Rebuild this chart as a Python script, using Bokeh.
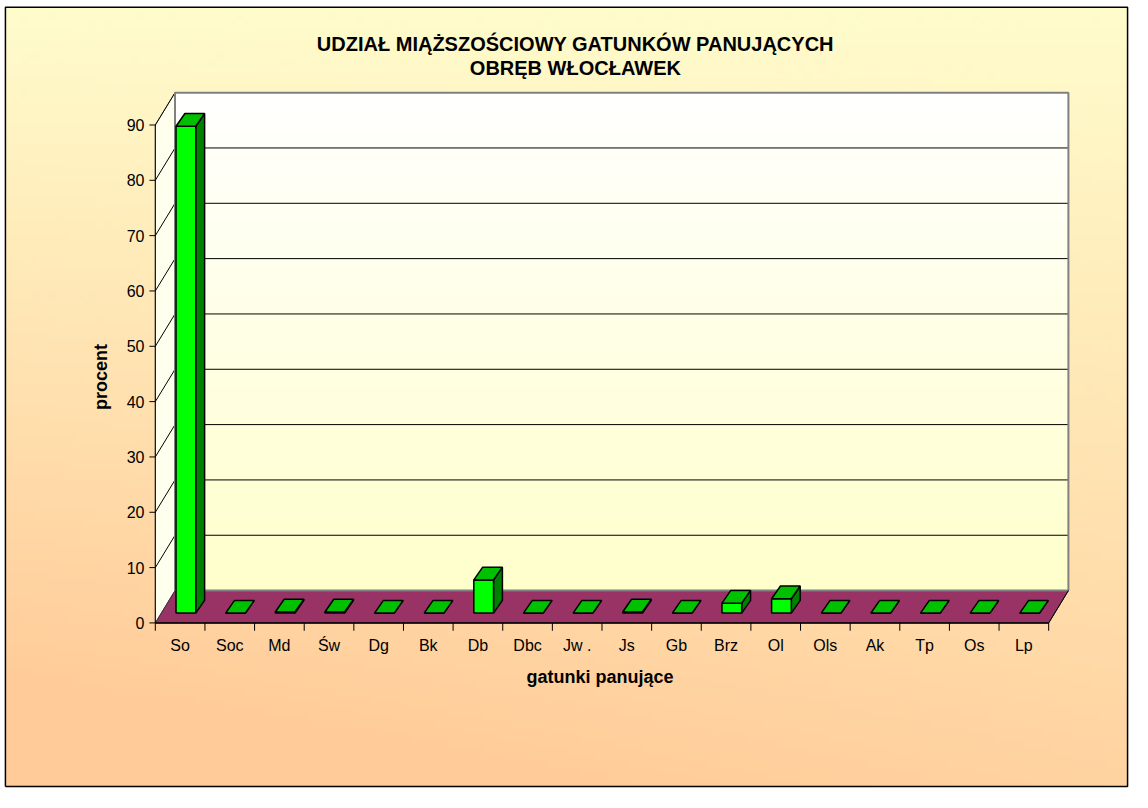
import numpy as np
from bokeh.plotting import figure
from bokeh.models import Range1d, ColumnDataSource
from bokeh.embed import file_html
from bokeh.resources import INLINE
from bokeh.core.properties import value

# ---------------- data ----------------
categories = ["So", "Soc", "Md", "Św", "Dg", "Bk", "Db", "Dbc", "Jw .", "Js",
              "Gb", "Brz", "Ol", "Ols", "Ak", "Tp", "Os", "Lp"]
percent = [88.0, 0.0, 0.2, 0.2, 0.0, 0.0, 6.0, 0.0, 0.0, 0.2,
           0.0, 1.8, 2.6, 0.0, 0.0, 0.0, 0.0, 0.0]
y_ticks = [0, 10, 20, 30, 40, 50, 60, 70, 80, 90]
title_lines = ["UDZIAŁ MIĄŻSZOŚCIOWY GATUNKÓW PANUJĄCYCH", "OBRĘB WŁOCŁAWEK"]
x_title = "gatunki panujące"
y_title = "procent"

# ---------------- geometry (styles, in reference-image px) ----------------
W, H = 1132, 792
REF_W, REF_H = 1148, 808
SX, SY = W / REF_W, H / REF_H
AX_X0, AX_X1 = 157, 1063      # front x axis
AX_Y0, AX_YT = 635, 127       # front y axis: 0 and top tick
n = len(categories)
ymax = y_ticks[-1]
pxu = (AX_X1 - AX_X0) * SX / n        # figure px per category
pyu = (AX_Y0 - AX_YT) * SY / ymax     # figure px per percent


def dx(px):
    return px * SX / pxu


def dy(px):
    return px * SY / pyu


def X(ix):
    return (ix - AX_X0) * SX / pxu


def Y(iy):
    return (AX_Y0 - iy) * SY / pyu


x_start, x_end = X(0), X(REF_W)
y_start, y_end = Y(REF_H), Y(0)

DEP_X, DEP_Y = dx(20), dy(33)         # wall depth
BAR_L, BAR_R = dx(21), dx(41)         # bar front face within a cell
BAR_BASE = dy(10)                     # bar base above front edge
BAR_DX, BAR_DY = dx(9), dy(13)        # bar depth

FONT = value("Liberation Sans")

p = figure(width=W, height=H, x_range=Range1d(x_start, x_end),
           y_range=Range1d(y_start, y_end), x_axis_type=None, y_axis_type=None,
           output_backend="svg", toolbar_location=None, min_border=0)
p.grid.visible = False
p.outline_line_color = None
p.background_fill_color = "white"
p.border_fill_color = "white"

# ---------------- background gradient (inside chart border) ----------------
bx0, bx1, by0, by1 = X(5), X(1143), Y(802), Y(7)
gh, gw = 120, 160
yy, xx = np.mgrid[0:gh, 0:gw]
yn = 1.0 - yy / (gh - 1)     # row 0 is bottom in image_rgba
xn = xx / (gw - 1)
t = np.clip(yn * (0.85 + 0.3 * (1 - xn)), 0, 1)
top = np.array([255, 252, 204])
bot = np.array([255, 204, 153])
col = top[None, None, :] * (1 - t[..., None]) + bot[None, None, :] * t[..., None]
img = np.empty((gh, gw), dtype=np.uint32)
view = img.view(dtype=np.uint8).reshape((gh, gw, 4))
view[..., 0] = col[..., 0]
view[..., 1] = col[..., 1]
view[..., 2] = col[..., 2]
view[..., 3] = 255
p.image_rgba(image=[img], x=bx0, y=by0, dw=bx1 - bx0, dh=by1 - by0)
p.line(x=[bx0, bx1, bx1, bx0, bx0], y=[by0, by0, by1, by1, by0],
       line_color="black", line_width=1.5)

# ---------------- back wall ----------------
wh, ww = 100, 2
wy = np.linspace(0, 1, wh)[:, None] * np.ones((1, ww))
wt = 1 - wy
wtop = np.array([255, 255, 255])
wbot = np.array([255, 255, 204])
wcol = wtop[None, None, :] * (1 - wt[..., None]) + wbot[None, None, :] * wt[..., None]
wimg = np.empty((wh, ww), dtype=np.uint32)
wv = wimg.view(dtype=np.uint8).reshape((wh, ww, 4))
wv[..., 0] = wcol[..., 0]
wv[..., 1] = wcol[..., 1]
wv[..., 2] = wcol[..., 2]
wv[..., 3] = 255
p.image_rgba(image=[wimg], x=DEP_X, y=DEP_Y, dw=n, dh=ymax)

# left side wall
p.patch(x=[0, DEP_X, DEP_X, 0], y=[0, DEP_Y, ymax + DEP_Y, ymax],
        fill_color="#FFFFEE", line_color="#808080", line_width=1)

# gridlines on back wall and side wall
grid_src = ColumnDataSource(dict(
    x0=[DEP_X for v in y_ticks[1:-1]], x1=[DEP_X + n for v in y_ticks[1:-1]],
    y=[v + DEP_Y for v in y_ticks[1:-1]]))
p.segment(x0="x0", y0="y", x1="x1", y1="y", source=grid_src,
          line_color="black", line_width=1)
p.segment(x0=[0] * (len(y_ticks) - 1), y0=y_ticks[1:],
          x1=[DEP_X] * (len(y_ticks) - 1), y1=[v + DEP_Y for v in y_ticks[1:]],
          line_color="black", line_width=1)

# back wall border
p.line(x=[DEP_X, DEP_X, DEP_X + n, DEP_X + n],
       y=[DEP_Y, ymax + DEP_Y, ymax + DEP_Y, DEP_Y],
       line_color="#808080", line_width=2)

# floor
p.patch(x=[0, n, n + DEP_X, DEP_X], y=[0, 0, DEP_Y, DEP_Y],
        fill_color="#993366", line_color="#333333", line_width=1)
p.line(x=[DEP_X, DEP_X + n], y=[DEP_Y, DEP_Y], line_color="#808080", line_width=2)

# ---------------- bars ----------------
idx = np.arange(n)
x0 = idx + BAR_L
x1 = idx + BAR_R
b0 = np.full(n, BAR_BASE)
b1 = BAR_BASE + np.array(percent)

side_xs = [[a, a + BAR_DX, a + BAR_DX, a] for a in x1]
side_ys = [[lo, lo + BAR_DY, hi + BAR_DY, hi] for lo, hi in zip(b0, b1)]
top_xs = [[a, b, b + BAR_DX, a + BAR_DX] for a, b in zip(x0, x1)]
top_ys = [[hi, hi, hi + BAR_DY, hi + BAR_DY] for hi in b1]

p.patches(xs=side_xs, ys=side_ys, fill_color="#008000", line_color="black", line_width=1.5)
p.quad(left=x0, right=x1, bottom=b0, top=b1, fill_color="#00FF00",
       line_color="black", line_width=1.5)
p.patches(xs=top_xs, ys=top_ys, fill_color="#00C000", line_color="black", line_width=1.5)

# ---------------- axes ----------------
# y axis
p.line(x=[0, 0], y=[0, ymax], line_color="black", line_width=1)
p.segment(x0=[-dx(6)] * len(y_ticks), y0=y_ticks, x1=[0] * len(y_ticks), y1=y_ticks,
          line_color="black", line_width=1)
p.text(x=[-dx(11)] * len(y_ticks), y=y_ticks, text=[str(v) for v in y_ticks],
       text_font=FONT, text_font_size="16px", text_align="right",
       text_baseline="middle", text_color="black")

# x axis
p.line(x=[0, n], y=[0, 0], line_color="black", line_width=1.5)
p.line(x=[n, n + DEP_X], y=[0, DEP_Y], line_color="black", line_width=1)
p.segment(x0=list(range(n + 1)), y0=[0] * (n + 1), x1=list(range(n + 1)),
          y1=[-dy(8)] * (n + 1), line_color="black", line_width=1)
p.text(x=idx + 0.5, y=[-dy(23)] * n, text=categories, text_font=FONT,
       text_font_size="16px", text_align="center", text_baseline="middle",
       text_color="black")

# titles
p.text(x=[X(583)] * 2, y=[Y(44), Y(69)], text=title_lines, text_font=FONT,
       text_font_size="20px", text_font_style="bold", text_align="center",
       text_baseline="middle", text_color="black")
p.text(x=[X(608)], y=[Y(690)], text=[x_title], text_font=FONT,
       text_font_size="18px", text_font_style="bold", text_align="center",
       text_baseline="middle", text_color="black")
p.text(x=[X(102)], y=[Y(384)], text=[y_title], text_font=FONT,
       text_font_size="18px", text_font_style="bold", text_align="center",
       text_baseline="middle", angle=np.pi / 2, text_color="black")

open("out.html", "w").write(file_html(p, INLINE))
